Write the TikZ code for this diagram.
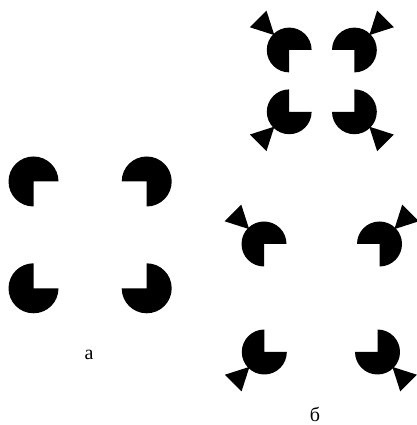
\documentclass[tikz,border=0pt]{standalone}
\usepackage{fontspec}
\setmainfont{Liberation Serif}
\tikzset{
  blob/.style={fill=black},
  lbl/.style={font=\fontsize{20}{22}\selectfont, inner sep=0pt}
}
% #1 x, #2 y, #3 radius, #4 start angle, #5 end angle
\newcommand\pacshape[5]{%
  \fill[blob] (#1,#2) -- ++(#4:#3pt) arc[start angle=#4, end angle=#5, radius=#3pt] -- cycle;}
% #1 x, #2 y, #3 direction
\newcommand\wedgeshape[3]{%
  \fill[blob] ([shift={(#1,#2)}]#3:21pt) -- ([shift={(#1,#2)}]#3+15:45.5pt) -- ([shift={(#1,#2)}]#3-15:45.5pt) -- cycle;}
\begin{document}
\begin{tikzpicture}[x=1pt,y=1pt]
\useasboundingbox (0,0) rectangle (416,425);
% group a
\pacshape{33.5}{243.5}{25}{0}{270}
\pacshape{146.7}{243.5}{25}{-90}{180}
\pacshape{33.5}{136.7}{25}{90}{360}
\pacshape{146.7}{136.7}{25}{180}{450}
\node[lbl] (la) at (89,70) {а};
% group b, upper
\pacshape{289.2}{375}{22.4}{0}{270}
\pacshape{354.4}{375}{22.4}{-90}{180}
\pacshape{289.2}{313.2}{22.4}{90}{360}
\pacshape{354.4}{313.2}{22.4}{180}{450}
\wedgeshape{289.2}{375}{135}
\wedgeshape{354.4}{375}{45}
\wedgeshape{289.2}{313.2}{225}
\wedgeshape{354.4}{313.2}{315}
% group b, lower
\pacshape{264}{181}{22.5}{0}{270}
\pacshape{379.5}{181}{22.5}{-90}{180}
\pacshape{264.3}{73}{22.5}{90}{360}
\pacshape{377.5}{73}{22.5}{180}{450}
\wedgeshape{264}{181}{135}
\wedgeshape{379.5}{181}{45}
\wedgeshape{264.3}{73}{225}
\wedgeshape{377.5}{73}{315}
\node[lbl] (lb) at (315,11) {б};
\end{tikzpicture}
\end{document}
